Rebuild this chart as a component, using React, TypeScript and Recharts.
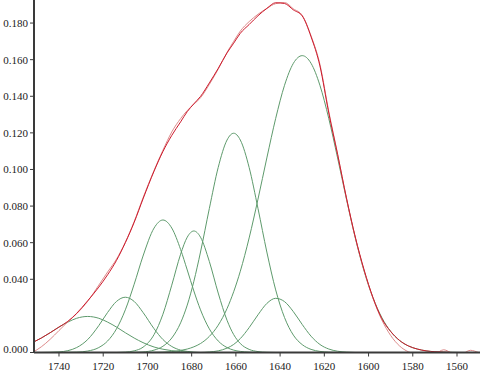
import React from "react";
import { LineChart, Line, XAxis, YAxis } from "recharts";

// wavenumber grid (cm-1)
const waveNumbers = [
  1752, 1748, 1744, 1740, 1736, 1732, 1727, 1722, 1718, 1714,
  1710, 1706, 1702, 1697, 1693, 1689, 1685, 1682, 1679, 1676,
  1672, 1668, 1664, 1661, 1658, 1654, 1650, 1646, 1642, 1638,
  1634, 1630, 1626, 1622, 1618, 1614, 1610, 1606, 1602, 1598,
  1594, 1590, 1586, 1582, 1578, 1574, 1570, 1566, 1562, 1558,
  1554, 1550,
];

// measured spectrum
const measured = [
  0, 0.0031, 0.0072, 0.012, 0.0168, 0.0212, 0.028, 0.0368, 0.044, 0.051,
  0.0602, 0.0715, 0.0845, 0.0995, 0.1105, 0.1205, 0.1278, 0.1322, 0.1357, 0.1392,
  0.1465, 0.1548, 0.164, 0.17, 0.1756, 0.1808, 0.1848, 0.188, 0.1906, 0.1912,
  0.1878, 0.1842, 0.173, 0.1575, 0.1318, 0.1085, 0.0842, 0.0628, 0.0447, 0.0296,
  0.0178, 0.0093, 0.0036, 0.0004, -0.0008, -0.0008, -0.0006, 0.0015, -0.0004, -0.0008,
  0.0012, -0.0002,
];

// fitted envelope
const fitted = [
  0.0054, 0.0079, 0.0108, 0.0139, 0.017, 0.0214, 0.0283, 0.0357, 0.0425, 0.0503,
  0.06, 0.0711, 0.0839, 0.0991, 0.1098, 0.1186, 0.126, 0.1316, 0.1359, 0.1399,
  0.1473, 0.1552, 0.1637, 0.169, 0.1744, 0.1792, 0.184, 0.188, 0.1911, 0.1907,
  0.1872, 0.1839, 0.1725, 0.1566, 0.1309, 0.1082, 0.0845, 0.0631, 0.0451, 0.03,
  0.0185, 0.0115, 0.0066, 0.0036, 0.0019, 0.0009, 0.0004, 0.0002, 0, 0,
  0, 0,
];

// component bands
const band1727 = [
  0.0054, 0.0079, 0.0108, 0.0139, 0.0166, 0.0187, 0.0197, 0.0187, 0.0166, 0.0139,
  0.0108, 0.0079, 0.0054, 0.003, 0.0018, 0.001, 0.0005, 0.0003, 0, 0,
  0, 0, 0, 0, 0, 0, 0, 0, 0, 0,
  0, 0, 0, 0, 0, 0, 0, 0, 0, 0,
  0, 0, 0, 0, 0, 0, 0, 0, 0, 0,
  0, 0,
];
const band1710 = [
  0, 0, 0.0001, 0.0003, 0.001, 0.0027, 0.0071, 0.0147, 0.0219, 0.0279,
  0.0302, 0.0279, 0.0219, 0.013, 0.0071, 0.0033, 0.0013, 0.0006, 0.0002, 0,
  0, 0, 0, 0, 0, 0, 0, 0, 0, 0,
  0, 0, 0, 0, 0, 0, 0, 0, 0, 0,
  0, 0, 0, 0, 0, 0, 0, 0, 0, 0,
  0, 0,
];
const band1693 = [
  0, 0, 0, 0, 0.0001, 0.0002, 0.0008, 0.0027, 0.0063, 0.0129,
  0.0233, 0.0373, 0.0527, 0.068, 0.0724, 0.068, 0.0563, 0.0451, 0.0336, 0.0233,
  0.0129, 0.0063, 0.0027, 0.0013, 0.0006, 0.0002, 0, 0, 0, 0,
  0, 0, 0, 0, 0, 0, 0, 0, 0, 0,
  0, 0, 0, 0, 0, 0, 0, 0, 0, 0,
  0, 0,
];
const band1679 = [
  0, 0, 0, 0, 0, 0, 0, 0, 0, 0,
  0.0002, 0.0009, 0.0029, 0.0098, 0.0209, 0.0368, 0.0537, 0.063, 0.0664, 0.063,
  0.0497, 0.0325, 0.0176, 0.0098, 0.0049, 0.0017, 0.0005, 0.0001, 0, 0,
  0, 0, 0, 0, 0, 0, 0, 0, 0, 0,
  0, 0, 0, 0, 0, 0, 0, 0, 0, 0,
  0, 0,
];
const band1661 = [
  0, 0, 0, 0, 0, 0, 0, 0, 0, 0,
  0, 0.0001, 0.0003, 0.0013, 0.0034, 0.0079, 0.0162, 0.0259, 0.0389, 0.0549,
  0.0787, 0.1011, 0.1161, 0.1198, 0.1161, 0.1011, 0.0787, 0.0549, 0.0342, 0.0191,
  0.0095, 0.0043, 0.0017, 0.0006, 0.0002, 0, 0, 0, 0, 0,
  0, 0, 0, 0, 0, 0, 0, 0, 0, 0,
  0, 0,
];
const band1642 = [
  0, 0, 0, 0, 0, 0, 0, 0, 0, 0,
  0, 0, 0, 0, 0, 0, 0, 0, 0, 0,
  0.0003, 0.0009, 0.0024, 0.0044, 0.0076, 0.0136, 0.0206, 0.0268, 0.0296, 0.0278,
  0.0223, 0.0153, 0.0089, 0.0044, 0.0019, 0.0007, 0.0002, 0, 0, 0,
  0, 0, 0, 0, 0, 0, 0, 0, 0, 0,
  0, 0,
];
const band1630 = [
  0, 0, 0, 0, 0, 0, 0, 0, 0, 0,
  0, 0, 0, 0.0001, 0.0002, 0.0005, 0.0011, 0.0019, 0.0031, 0.0049,
  0.0088, 0.0149, 0.024, 0.0332, 0.0444, 0.0626, 0.0838, 0.1063, 0.1279, 0.146,
  0.158, 0.1622, 0.158, 0.146, 0.1279, 0.1063, 0.0838, 0.0626, 0.0444, 0.0299,
  0.0191, 0.0115, 0.0066, 0.0036, 0.0019, 0.0009, 0.0004, 0.0002, 0.0001, 0,
  0, 0,
];

const bands = [band1727, band1710, band1693, band1679, band1661, band1642, band1630];

const xTicks = [1740, 1720, 1700, 1680, 1660, 1640, 1620, 1600, 1580, 1560];
const yTicks = [0, 0.04, 0.06, 0.08, 0.1, 0.12, 0.14, 0.16, 0.18];

const data = waveNumbers.map((w, i) => {
  const row: Record<string, number> = { w, measured: measured[i], fitted: fitted[i] };
  bands.forEach((b, j) => (row["b" + j] = b[i]));
  return row;
});

const axisColor = "#3a3a3a";
const green = "#5e9a6c";
const serif = "Liberation Serif, DejaVu Serif, serif";

const XTick = (props: any) => {
  const { x, y, payload } = props;
  return (
    <text x={x} y={y} dy={9} textAnchor="middle" dominantBaseline="central" fill="#222" fontFamily={serif} fontSize={11}>
      {payload.value}
    </text>
  );
};

const YTick = (props: any) => {
  const { x, y, payload } = props;
  const dy = payload.value === 0 ? -4 : 0;
  return (
    <text x={x} y={y + dy} textAnchor="end" dominantBaseline="central" fill="#222" fontFamily={serif} fontSize={11}>
      {Number(payload.value).toFixed(3)}
    </text>
  );
};

export default function App() {
  return (
    <div style={{ position: "absolute", left: 0, top: 0, background: "#fff", fontFamily: serif }}>
      <LineChart width={480} height={374} data={data} margin={{ top: 0, right: 0, left: 0, bottom: 0 }}>
        <XAxis
          dataKey="w"
          type="number"
          domain={[1549.6, 1751.3]}
          reversed
          allowDataOverflow
          ticks={xTicks}
          height={21.5}
          tickSize={4}
          tickMargin={0}
          tick={<XTick />}
          axisLine={{ stroke: axisColor, strokeWidth: 2 }}
          tickLine={{ stroke: axisColor }}
        />
        <YAxis
          type="number"
          domain={[0, 0.1926]}
          allowDataOverflow
          ticks={yTicks}
          width={34}
          tickSize={4}
          tickMargin={2}
          tick={<YTick />}
          axisLine={{ stroke: axisColor, strokeWidth: 2 }}
          tickLine={{ stroke: axisColor }}
        />
        {bands.map((_, j) => (
          <Line
            key={j}
            dataKey={"b" + j}
            type="monotone"
            stroke={green}
            strokeWidth={1}
            dot={false}
            isAnimationActive={false}
          />
        ))}
        <Line dataKey="measured" type="monotone" stroke="#dc8a8a" strokeWidth={1} dot={false} isAnimationActive={false} />
        <Line dataKey="fitted" type="monotone" stroke="#cc1a2c" strokeWidth={1} dot={false} isAnimationActive={false} />
      </LineChart>
    </div>
  );
}
